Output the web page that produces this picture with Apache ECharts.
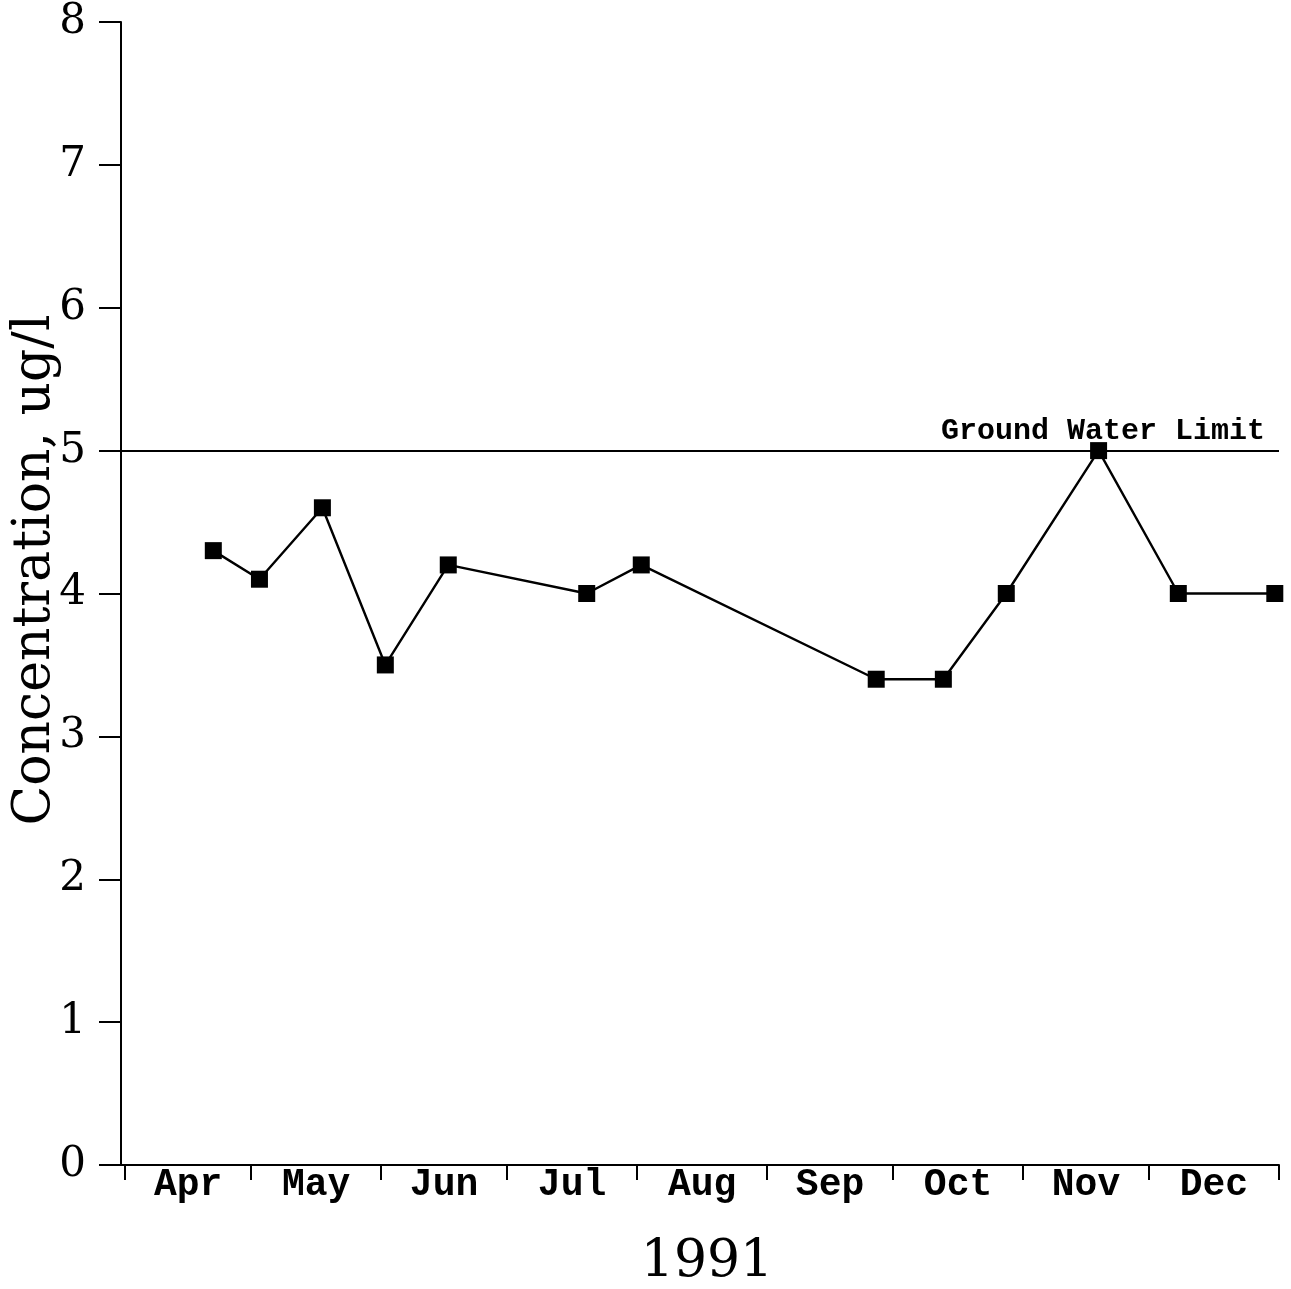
<!DOCTYPE html>
<html>
<head>
<meta charset="utf-8">
<title>Concentration 1991</title>
<script src="https://cdn.jsdelivr.net/npm/echarts@6/dist/echarts.min.js"></script>
<style>
  html, body { margin: 0; padding: 0; background: #fff; }
  #chart { width: 1291px; height: 1289px; }
</style>
</head>
<body>
<div id="chart"></div>
<script>
// Sampling dates and measured concentrations (ug/l)
const sampleDates = [
  '1991-04-22', '1991-05-03', '1991-05-18', '1991-06-02', '1991-06-17',
  '1991-07-20', '1991-08-02', '1991-09-27', '1991-10-13', '1991-10-28',
  '1991-11-19', '1991-12-08', '1991-12-31'
];
const concentrations = [4.3, 4.1, 4.6, 3.5, 4.2, 4.0, 4.2, 3.4, 3.4, 4.0, 5.0, 4.0, 4.0];

// Month bands along the time axis
const monthLabels = ['Apr', 'May', 'Jun', 'Jul', 'Aug', 'Sep', 'Oct', 'Nov', 'Dec'];
const monthStarts = [
  '1991-04-01', '1991-05-01', '1991-06-01', '1991-07-01', '1991-08-01',
  '1991-09-01', '1991-10-01', '1991-11-01', '1991-12-01', '1992-01-01'
];

// Concentration axis
const yMin = 0, yMax = 8, yStep = 1;

// Regulatory limit
const groundWaterLimit = 5;
const limitLabel = 'Ground Water Limit';
const yearLabel = '1991';
const yTitle = 'Concentration, ug/l';

const DAY = 86400000;
const origin = Date.parse(monthStarts[0]);
const dayOf = d => (Date.parse(d) - origin) / DAY;

const tickDays = monthStarts.map(dayOf);
const labelDays = monthLabels.map((m, i) => (tickDays[i] + tickDays[i + 1]) / 2);
const seriesData = sampleDates.map((d, i) => [dayOf(d), concentrations[i]]);

const serif = '"DejaVu Serif", "Liberation Serif", serif';
const mono = '"Liberation Mono", "Courier New", monospace';

const chart = echarts.init(document.getElementById('chart'), null, { renderer: 'canvas' });
chart.setOption({
  animation: false,
  backgroundColor: '#ffffff',
  grid: { left: 121, right: 12, top: 22, bottom: 124, containLabel: false },
  xAxis: {
    type: 'value',
    min: -1,
    max: tickDays[tickDays.length - 1],
    splitLine: { show: false },
    axisLine: { show: true, onZero: false, lineStyle: { color: '#000', width: 2 } },
    axisTick: {
      show: true, inside: false, length: 15,
      customValues: tickDays,
      lineStyle: { color: '#000', width: 2 }
    },
    axisLabel: {
      show: true,
      customValues: labelDays,
      margin: 1,
      color: '#000',
      fontFamily: mono,
      fontWeight: 'bold',
      fontSize: 38,
      formatter: v => {
        const i = labelDays.findIndex(d => Math.abs(d - v) < 0.01);
        return i >= 0 ? monthLabels[i] : '';
      }
    }
  },
  yAxis: {
    type: 'value',
    min: yMin,
    max: yMax,
    interval: yStep,
    splitLine: { show: false },
    axisLine: { show: true, onZero: false, lineStyle: { color: '#000', width: 2 } },
    axisTick: { show: true, inside: false, length: 22, lineStyle: { color: '#000', width: 2 } },
    axisLabel: {
      margin: 35,
      color: '#000',
      fontFamily: serif,
      fontSize: 42
    }
  },
  graphic: [
    {
      type: 'text',
      x: 35, y: 570,
      rotation: Math.PI / 2,
      style: {
        text: yTitle,
        fill: '#000',
        font: '52px ' + serif,
        textAlign: 'center',
        textVerticalAlign: 'middle'
      }
    },
    {
      type: 'text',
      x: 707, y: 1262,
      style: {
        text: yearLabel,
        fill: '#000',
        font: '52px ' + serif,
        textAlign: 'center',
        textVerticalAlign: 'middle'
      }
    }
  ],
  series: [
    {
      type: 'line',
      data: seriesData,
      symbol: 'rect',
      symbolSize: 17,
      showSymbol: true,
      itemStyle: { color: '#000' },
      lineStyle: { color: '#000', width: 2.4 },
      markLine: {
        silent: true,
        symbol: ['none', 'none'],
        lineStyle: { color: '#000', width: 2, type: 'solid' },
        label: {
          show: true,
          position: 'insideEndTop',
          formatter: limitLabel,
          color: '#000',
          fontFamily: mono,
          fontWeight: 'bold',
          fontSize: 30,
          distance: 4,
          padding: [0, 10, 0, 0]
        },
        data: [{ yAxis: groundWaterLimit }]
      }
    }
  ]
});
</script>
</body>
</html>
